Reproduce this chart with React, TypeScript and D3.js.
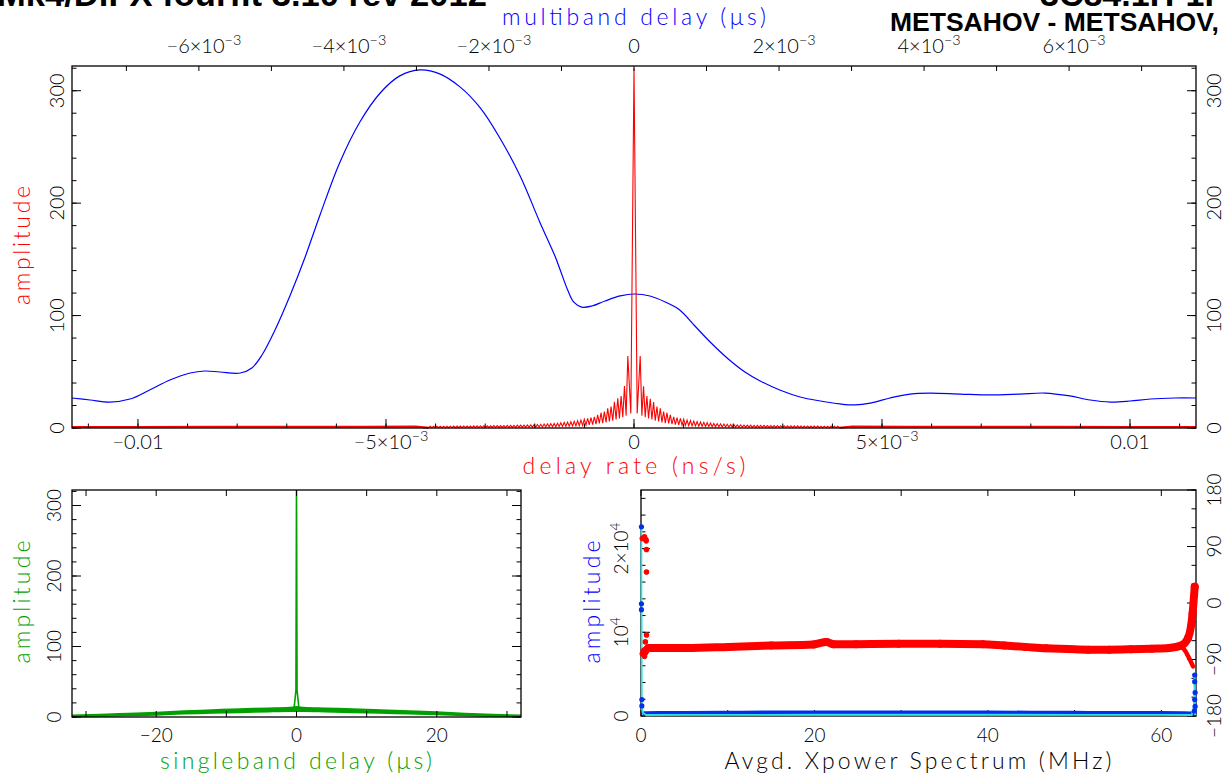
import React from 'react';
import * as d3 from 'd3';

// ---------------- DATA ----------------
// Top panel: delay rate (ns/s) bottom axis, multiband delay (µs) top axis, amplitude
const rateDomain = [-0.01133, 0.01133];
const mbdDomain = [-7.75e-3, 7.75e-3];
const ampDomain = [0, 322];
const rateMajorTicks = [-0.01, -0.005, 0, 0.005, 0.01];
const rateTickLabels = ['−0.01', '−5×10^−3', '0', '5×10^−3', '0.01'];
const mbdLabelTicks = [-6e-3, -4e-3, -2e-3, 0, 2e-3, 4e-3, 6e-3];
const mbdTickLabels = ['−6×10^−3', '−4×10^−3', '−2×10^−3', '0', '2×10^−3', '4×10^−3', '6×10^−3'];
const ampTicks = [0, 100, 200, 300];
const ampTickLabels = ['0', '100', '200', '300'];

// multiband delay amplitude (blue), x in µs
const mbdX = [-7.75e-3, -7.50e-3, -7.23e-3, -6.95e-3, -6.68e-3, -6.40e-3, -6.12e-3, -5.92e-3, -5.71e-3, -5.43e-3, -5.27e-3, -5.13e-3,
  -4.95e-3, -4.74e-3, -4.54e-3, -4.33e-3, -4.06e-3, -3.78e-3, -3.50e-3, -3.23e-3, -2.95e-3, -2.68e-3, -2.40e-3, -2.12e-3,
  -1.85e-3, -1.57e-3, -1.30e-3, -1.09e-3, -1.02e-3, -0.91e-3, -0.83e-3, -0.72e-3, -0.58e-3, -0.40e-3, -0.19e-3, 0.01e-3, 0.22e-3, 0.43e-3,
  0.63e-3, 0.84e-3, 1.05e-3, 1.30e-3, 1.53e-3, 1.74e-3, 2.01e-3, 2.29e-3, 2.57e-3, 2.84e-3, 3.05e-3, 3.26e-3, 3.53e-3,
  3.81e-3, 4.08e-3, 4.50e-3, 4.91e-3, 5.32e-3, 5.67e-3, 6.01e-3, 6.29e-3, 6.57e-3, 6.84e-3, 7.12e-3, 7.46e-3, 7.75e-3];
const mbdAmp = [26.7, 24.9, 23.1, 25.8, 33.8, 42.7, 48.9, 50.7, 49.8, 48.9, 53.4, 64.9,
  87.2, 118.3, 151.2, 189.5, 235.8, 272.2, 298, 313.2, 318.5, 315, 303.4, 284.7,
  258, 224.2, 183.3, 153, 141, 122, 112, 107.5, 108.5, 113, 117.5, 119.2, 117.4, 112.1,
  105, 90.7, 76.5, 61.4, 49.8, 41.8, 33.8, 27.6, 24, 21.4, 20.5, 22.2, 26.7,
  30.2, 31.1, 30.2, 29.4, 30.2, 31.1, 28.5, 24.9, 23.1, 24, 25.8, 26.7, 26.7];

// delay-rate amplitude (red): central peak, side-lobe maxima and minima (outward from 0)
const ratePeak = 320;
const rateLobeStep = 6.75e-5; // ns/s between neighbouring side lobes
const rateLobesRight = [64, 37, 28.5, 26, 23, 19, 17.5, 14.5, 13.6, 11.6, 10, 9.2, 8.6, 7.7, 7.1, 6.6, 6.1, 5.7, 5.3, 5.0,
  4.7, 4.4, 4.1, 3.9, 3.7, 3.5, 3.3, 3.1, 3.0, 2.8, 2.7, 2.6, 2.6, 2.5, 2.4, 2.4, 2.3, 2.3, 2.2, 2.2,
  2.1, 2.1, 2.0, 2.0, 2.0, 1.9, 1.9, 1.9, 1.8, 1.8, 1.8, 1.7, 1.7, 1.7, 1.6, 1.6, 1.6, 1.5, 1.5, 1.5];
const rateLobesLeft = [64, 37.4, 28.5, 26.4, 23.4, 19, 17.5, 14.5, 13.6, 11.6, 10, 9.2, 8.6, 7.7, 7.1, 6.5, 6.0, 5.6, 5.2, 4.9,
  4.6, 4.3, 4.1, 3.9, 3.7, 3.5, 3.3, 3.1, 2.9, 2.8, 2.7, 2.6, 2.5, 2.5, 2.4, 2.3, 2.3, 2.2, 2.2, 2.1,
  2.1, 2.0, 2.0, 2.0, 1.9, 1.9, 1.9, 1.8, 1.8, 1.8, 1.7, 1.7, 1.7, 1.6, 1.6, 1.6, 1.5, 1.5, 1.5, 1.5];
const rateTroughs = [13, 11, 9.5, 8.5, 7.5, 6.5, 5.8, 5, 4.4, 4, 3.5, 3.1, 2.8, 2.5, 2.3, 2.1, 1.9, 1.8, 1.6, 1.5,
  1.4, 1.3, 1.2, 1.1, 1.0, 1.0, 0.9, 0.9, 0.8, 0.8, 0.8, 0.7, 0.7, 0.7, 0.6, 0.6, 0.6, 0.6, 0.5, 0.5,
  0.5, 0.5, 0.5, 0.4, 0.4, 0.4, 0.4, 0.4, 0.4, 0.4, 0.3, 0.3, 0.3, 0.3, 0.3, 0.3, 0.3, 0.3, 0.3, 0.3, 0.3];
const rateFarX = [4.4e-3, 5.5e-3, 7e-3, 8.5e-3, 10e-3, 11.33e-3];
const rateFarAmp = [1.3, 1.2, 1.1, 1.1, 1.0, 1.0];

// Bottom-left: singleband delay (µs)
const sbdDomain = [-32, 32];
const sbdTickMarks = [-30, -20, -10, 0, 10, 20, 30];
const sbdLabelTicks = [-20, 0, 20];
const sbdTickLabels = ['−20', '0', '20'];
const sbdX = [-32, -28, -24, -20, -16, -12, -8, -4, -1, 0, 1, 4, 8, 12, 16, 20, 24, 28, 32];
const sbdLow = [0.5, 1, 2, 3, 4.5, 5.5, 6.5, 7.5, 8, 8, 8, 7.5, 6.5, 5.5, 4.5, 3.5, 2, 1, 0.5];
const sbdHigh = [2.5, 3.5, 5, 6.5, 8.5, 10, 11.5, 12.5, 13.5, 14.5, 13.5, 12.5, 11.5, 10, 8.5, 7, 5, 3.5, 2.5];
const sbdSpikeX = [-0.35, -0.08, 0, 0.08, 0.35];
const sbdSpikeAmp = [12, 38, 330, 38, 12];

// Bottom-right: cross-power spectrum
const freqDomain = [0, 64];
const freqTickMarks = [0, 10, 20, 30, 40, 50, 60];
const freqLabelTicks = [0, 20, 40, 60];
const freqTickLabels = ['0', '20', '40', '60'];
const xpAmpDomain = [0, 27000];
const xpAmpLabelTicks = [0, 10000, 20000];
const xpAmpTickLabels = ['0', '10^4', '2×10^4'];
const phaseDomain = [-180, 180];
const phaseLabelTicks = [-180, -90, 0, 90, 180];
const phaseTickLabels = ['−180', '−90', '0', '90', '180'];

const phaseFreq = [0.4, 0.9, 5.3, 10.1, 15, 19.9, 21.4, 22.2, 24.8, 29.7, 34.5, 39.4, 41.9, 44.3, 46.7, 49.2, 51.6, 54, 56.5, 58.9, 60.9, 62.3, 63.1, 63.6, 63.85];
const phaseDeg = [-78, -71.6, -71.6, -69.9, -67.8, -66.1, -62, -65.8, -65.6, -65.1, -65.1, -65.6, -67.8, -69.9, -72.1, -73.2, -74.3, -74.3, -73.7, -72.7, -71.6, -67.8, -55.3, -17.3, 26];
const phaseBranchFreq = [62.3, 62.8, 63.3, 63.66];
const phaseBranchDeg = [-67.8, -77, -90.5, -101];
const phaseEdgeFreq = [0.15, 0.3, 0.4, 0.55, 0.6, 0.63, 0.63, 0.63, 0.15, 0.4, 0.5, 0.3];
const phaseEdgeDeg = [102.8, 104, 105.5, 101, 99, 85.3, 49.3, -51, -80.8, -85, -62, -76];

const xpAmpFreq = [0.4, 2, 5, 10, 15, 20, 25, 30, 35, 40, 45, 50, 55, 60, 62.5, 63.6];
const xpAmp = [300, 320, 340, 360, 380, 390, 390, 390, 385, 380, 370, 350, 330, 320, 300, 260];
const cyanFreq = [0.04, 0.05, 0.07, 0.09, 0.12, 0.2, 0.6, 5, 10, 20, 30, 40, 50, 60, 63.5, 63.75, 63.8, 63.85, 63.9];
const cyanAmp = [22600, 13400, 12700, 1960, 900, 400, 120, 130, 140, 150, 150, 150, 140, 130, 120, 1100, 2800, 4900, 100];
const ampEdgeFreq = [0.05, 0.05, 0.05, 0.1, 0.1, 63.85, 63.85, 63.9, 63.85, 63.9, 63.8];
const ampEdgeVal = [22600, 13400, 12700, 1960, 1200, 4900, 4100, 2800, 1960, 1140, 600];

// ---------------- STYLE ----------------
const FONT = "Lato, 'DejaVu Sans', sans-serif";
const BOLD = "'Liberation Sans', Arial, sans-serif";
const RED = '#ff0000';
const BLUE = '#0000ff';
const GREEN = '#00a000';

function Txt({ x, y, text, size, fill = '#000', rotate = false, anchor = 'middle', len }: any) {
  const [main, sup] = text.split('^');
  const content = sup
    ? [<tspan key="m">{main}</tspan>, <tspan key="s" dy={-size * 0.42} fontSize={size * 0.72}>{sup}</tspan>]
    : main;
  const common: any = { fontFamily: FONT, fontWeight: 300, fontSize: size, fill, textAnchor: anchor };
  if (len) { common.textLength = len; common.lengthAdjust = 'spacing'; }
  if (rotate) {
    return <text transform={`translate(${x},${y}) rotate(-90)`} {...common}>{content}</text>;
  }
  return <text x={x} y={y} {...common}>{content}</text>;
}

function vTicks(scale: any, values: number[], x0: number, dir: number, len: number, key: string) {
  return values.map((v, i) => (
    <line key={key + i} x1={x0} x2={x0 + dir * len} y1={scale(v)} y2={scale(v)} stroke="#000" strokeWidth={1} />
  ));
}
function hTicks(scale: any, values: number[], y0: number, dir: number, len: number, key: string) {
  return values.map((v, i) => (
    <line key={key + i} y1={y0} y2={y0 + dir * len} x1={scale(v)} x2={scale(v)} stroke="#000" strokeWidth={1} />
  ));
}

export default function App() {
  const W = 1223, H = 782;
  const T = { l: 72, r: 1196, t: 66, b: 428 };
  const BL = { l: 72, r: 521, t: 490, b: 717 };
  const BR = { l: 641, r: 1196, t: 490, b: 716 };

  // scales
  const xRate = d3.scaleLinear().domain(rateDomain).range([T.l, T.r]);
  const xMbd = d3.scaleLinear().domain(mbdDomain).range([T.l, T.r]);
  const yAmp = d3.scaleLinear().domain(ampDomain).range([T.b, T.t]);
  const xSbd = d3.scaleLinear().domain(sbdDomain).range([BL.l, BL.r]);
  const ySbd = d3.scaleLinear().domain(ampDomain).range([BL.b, BL.t]);
  const xFreq = d3.scaleLinear().domain(freqDomain).range([BR.l, BR.r]);
  const yXp = d3.scaleLinear().domain(xpAmpDomain).range([BR.b, BR.t]);
  const yPh = d3.scaleLinear().domain(phaseDomain).range([BR.b, BR.t]);

  // red delay-rate trace
  const side = (lobes: number[], sign: number) => {
    const pts: [number, number][] = [];
    pts.push([sign * 0.95 * rateLobeStep, rateTroughs[0]]);
    lobes.forEach((p, k) => {
      pts.push([sign * (k + 1.85) * rateLobeStep, p]);
      pts.push([sign * (k + 2.35) * rateLobeStep, rateTroughs[k + 1]]);
    });
    return pts;
  };
  const left = side(rateLobesLeft, -1).reverse();
  const right = side(rateLobesRight, 1);
  const ratePts: [number, number][] = [...left, [0, ratePeak], ...right];
  const lineRate = d3.line<[number, number]>().x(d => xRate(d[0])).y(d => yAmp(d[1]));
  const farR: [number, number][] = [right[right.length - 1], ...rateFarX.map((x, i) => [x, rateFarAmp[i]] as [number, number])];
  const farL: [number, number][] = farR.map(d => [-d[0], d[1]] as [number, number]);

  const lineMbd = d3.line<number>().x((_, i) => xMbd(mbdX[i])).y(d => yAmp(d)).curve(d3.curveCatmullRom);

  const areaSbd = d3.area<number>().x((_, i) => xSbd(sbdX[i])).y0((_, i) => ySbd(sbdLow[i])).y1(d => ySbd(d)).curve(d3.curveMonotoneX);
  const lineSpike = d3.line<number>().x((_, i) => xSbd(sbdSpikeX[i])).y(d => ySbd(d));

  const linePhase = d3.line<number>().x((_, i) => xFreq(phaseFreq[i])).y(d => yPh(d)).curve(d3.curveMonotoneX);
  const lineBranch = d3.line<number>().x((_, i) => xFreq(phaseBranchFreq[i])).y(d => yPh(d));
  const lineXp = d3.line<number>().x((_, i) => xFreq(xpAmpFreq[i])).y(d => yXp(d)).curve(d3.curveMonotoneX);
  const lineCyan = d3.line<number>().x((_, i) => xFreq(cyanFreq[i])).y(d => yXp(d));

  const frame = (p: any, k: string) => (
    <rect key={k} x={p.l} y={p.t} width={p.r - p.l} height={p.b - p.t} fill="none" stroke="#000" strokeWidth={1.3} />
  );

  const minorAmp = d3.range(0, 321, 20);
  const rateMinor = d3.range(-11, 12).map(v => v * 1e-3);
  const mbdAll = d3.range(-7, 8).map(v => v * 1e-3);
  const xpMinor = d3.range(0, 27000, 2000);
  const phMinor = d3.range(-180, 181, 30);

  return (
    <svg width={W} height={H} style={{ display: 'block', position: 'absolute', left: 0, top: 0, background: '#fff' }}>
      <rect x={0} y={0} width={W} height={H} fill="#fff" />
      <defs>
        <clipPath id="cT"><rect x={T.l} y={T.t} width={T.r - T.l} height={T.b - T.t + 2} /></clipPath>
        <clipPath id="cBL"><rect x={BL.l} y={BL.t} width={BL.r - BL.l} height={BL.b - BL.t + 1} /></clipPath>
        <clipPath id="cBR"><rect x={BR.l - 3} y={BR.t} width={BR.r - BR.l + 6} height={BR.b - BR.t + 1} /></clipPath>
      </defs>

      {/* Titles */}
      <text x={-3} y={6} fontFamily={BOLD} fontWeight="bold" fontSize={34} textLength={490} lengthAdjust="spacingAndGlyphs">Mk4/DiFX fourfit 3.10 rev 2012</text>
      <text x={1040} y={6} fontFamily={BOLD} fontWeight="bold" fontSize={34}>3C84.1H-1P 11</text>
      <text x={890} y={31} fontFamily={BOLD} fontWeight="bold" fontSize={26.5}>METSAHOV - METSAHOV, X, LL</text>

      {/* ---------- Top panel ---------- */}
      <Txt x={634} y={25} text="multiband delay (μs)" size={23} fill={BLUE} len={264} />
      {mbdLabelTicks.map((v, i) => <Txt key={'mt' + i} x={xMbd(v) + (v === 0 ? 0 : 5)} y={53} text={mbdTickLabels[i]} size={20} />)}
      {rateMajorTicks.map((v, i) => <Txt key={'rt' + i} x={xRate(v) + (v === 0 || Math.abs(v) === 0.01 ? 0 : 5)} y={449} text={rateTickLabels[i]} size={20} />)}
      <Txt x={634} y={474} text="delay rate (ns/s)" size={23} fill={RED} len={223} />
      <Txt x={30} y={245.5} text="amplitude" size={23} fill={RED} rotate len={119} />
      {ampTicks.map((v, i) => <Txt key={'la' + i} x={64} y={yAmp(v)} text={ampTickLabels[i]} size={20} rotate />)}
      {ampTicks.map((v, i) => <Txt key={'ra' + i} x={1221} y={yAmp(v)} text={ampTickLabels[i]} size={20} rotate />)}

      <g clipPath="url(#cT)">
        <path d={lineMbd(mbdAmp) as string} fill="none" stroke={BLUE} strokeWidth={1.2} />
        <path d={lineRate(farR) as string} fill="none" stroke={RED} strokeWidth={2} />
        <path d={lineRate(farL) as string} fill="none" stroke={RED} strokeWidth={2} />
        <path d={lineRate(ratePts) as string} fill="none" stroke={RED} strokeWidth={1.1} />
      </g>
      {frame(T, 'fT')}
      {vTicks(yAmp, ampTicks, T.l, 1, 9, 'tl')}
      {vTicks(yAmp, minorAmp, T.l, 1, 4.5, 'tlm')}
      {vTicks(yAmp, ampTicks, T.r, -1, 9, 'tr')}
      {vTicks(yAmp, minorAmp, T.r, -1, 4.5, 'trm')}
      {hTicks(xRate, rateMajorTicks, T.b, -1, 9, 'tb')}
      {hTicks(xRate, rateMinor, T.b, -1, 4.5, 'tbm')}
      {hTicks(xMbd, mbdAll, T.t, 1, 5, 'tt')}

      {/* ---------- Bottom-left panel ---------- */}
      <g clipPath="url(#cBL)">
        <path d={areaSbd(sbdHigh) as string} fill={GREEN} stroke={GREEN} strokeWidth={1.5} />
        <path d={lineSpike(sbdSpikeAmp) as string} fill="none" stroke={GREEN} strokeWidth={1.6} />
      </g>
      {frame(BL, 'fBL')}
      {vTicks(ySbd, ampTicks, BL.l, 1, 9, 'bll')}
      {vTicks(ySbd, minorAmp, BL.l, 1, 4.5, 'bllm')}
      {vTicks(ySbd, ampTicks, BL.r, -1, 9, 'blr')}
      {vTicks(ySbd, minorAmp, BL.r, -1, 4.5, 'blrm')}
      {hTicks(xSbd, sbdTickMarks, BL.b, -1, 6, 'blb')}
      {hTicks(xSbd, sbdTickMarks, BL.t, 1, 6, 'blt')}
      {ampTicks.map((v, i) => <Txt key={'bla' + i} x={61} y={ySbd(v)} text={ampTickLabels[i]} size={19} rotate />)}
      {sbdLabelTicks.map((v, i) => <Txt key={'blx' + i} x={xSbd(v)} y={742} text={sbdTickLabels[i]} size={19} />)}
      <Txt x={296} y={769} text="singleband delay (μs)" size={23} fill={GREEN} len={272} />
      <Txt x={30} y={602} text="amplitude" size={23} fill={GREEN} rotate len={123} />

      {/* ---------- Bottom-right panel ---------- */}
      {frame(BR, 'fBR')}
      {vTicks(yXp, xpMinor, BR.l, 1, 4.5, 'brl')}
      {vTicks(yXp, [10000, 20000], BR.l, 1, 9, 'brlM')}
      {vTicks(yPh, phMinor, BR.r, -1, 4.5, 'brr')}
      {vTicks(yPh, phaseLabelTicks, BR.r, -1, 9, 'brrM')}
      {hTicks(xFreq, freqTickMarks, BR.b, -1, 6, 'brb')}
      {hTicks(xFreq, freqTickMarks, BR.t, 1, 6, 'brt')}
      <g clipPath="url(#cBR)">
        <path d={lineXp(xpAmp) as string} fill="none" stroke="#0030ee" strokeWidth={4.5} strokeLinecap="round" />
        <path d={lineCyan(cyanAmp) as string} fill="none" stroke="#30e0e0" strokeWidth={1.8} />
        {ampEdgeFreq.map((f, i) => <circle key={'ae' + i} cx={xFreq(f)} cy={yXp(ampEdgeVal[i])} r={2.6} fill="#0030ee" />)}
        <path d={linePhase(phaseDeg) as string} fill="none" stroke={RED} strokeWidth={8} strokeLinecap="round" strokeLinejoin="round" />
        <path d={lineBranch(phaseBranchDeg) as string} fill="none" stroke={RED} strokeWidth={4.5} strokeLinecap="round" />
        {phaseFreq.map((f, i) => <circle key={'pd' + i} cx={xFreq(f)} cy={yPh(phaseDeg[i])} r={4} fill={RED} />)}
        {phaseEdgeFreq.map((f, i) => <circle key={'pe' + i} cx={xFreq(f)} cy={yPh(phaseEdgeDeg[i])} r={2.8} fill={RED} />)}
      </g>
      {xpAmpLabelTicks.map((v, i) => <Txt key={'bry' + i} x={628} y={yXp(v)} text={xpAmpTickLabels[i]} size={19} rotate />)}
      {phaseLabelTicks.map((v, i) => <Txt key={'brp' + i} x={1221} y={yPh(v)} text={phaseTickLabels[i]} size={19} rotate />)}
      {freqLabelTicks.map((v, i) => <Txt key={'brx' + i} x={xFreq(v)} y={742} text={freqTickLabels[i]} size={19} />)}
      <Txt x={918} y={769} text="Avgd. Xpower Spectrum (MHz)" size={23} len={387} />
      <Txt x={600} y={602} text="amplitude" size={23} fill={BLUE} rotate len={123} />
    </svg>
  );
}
